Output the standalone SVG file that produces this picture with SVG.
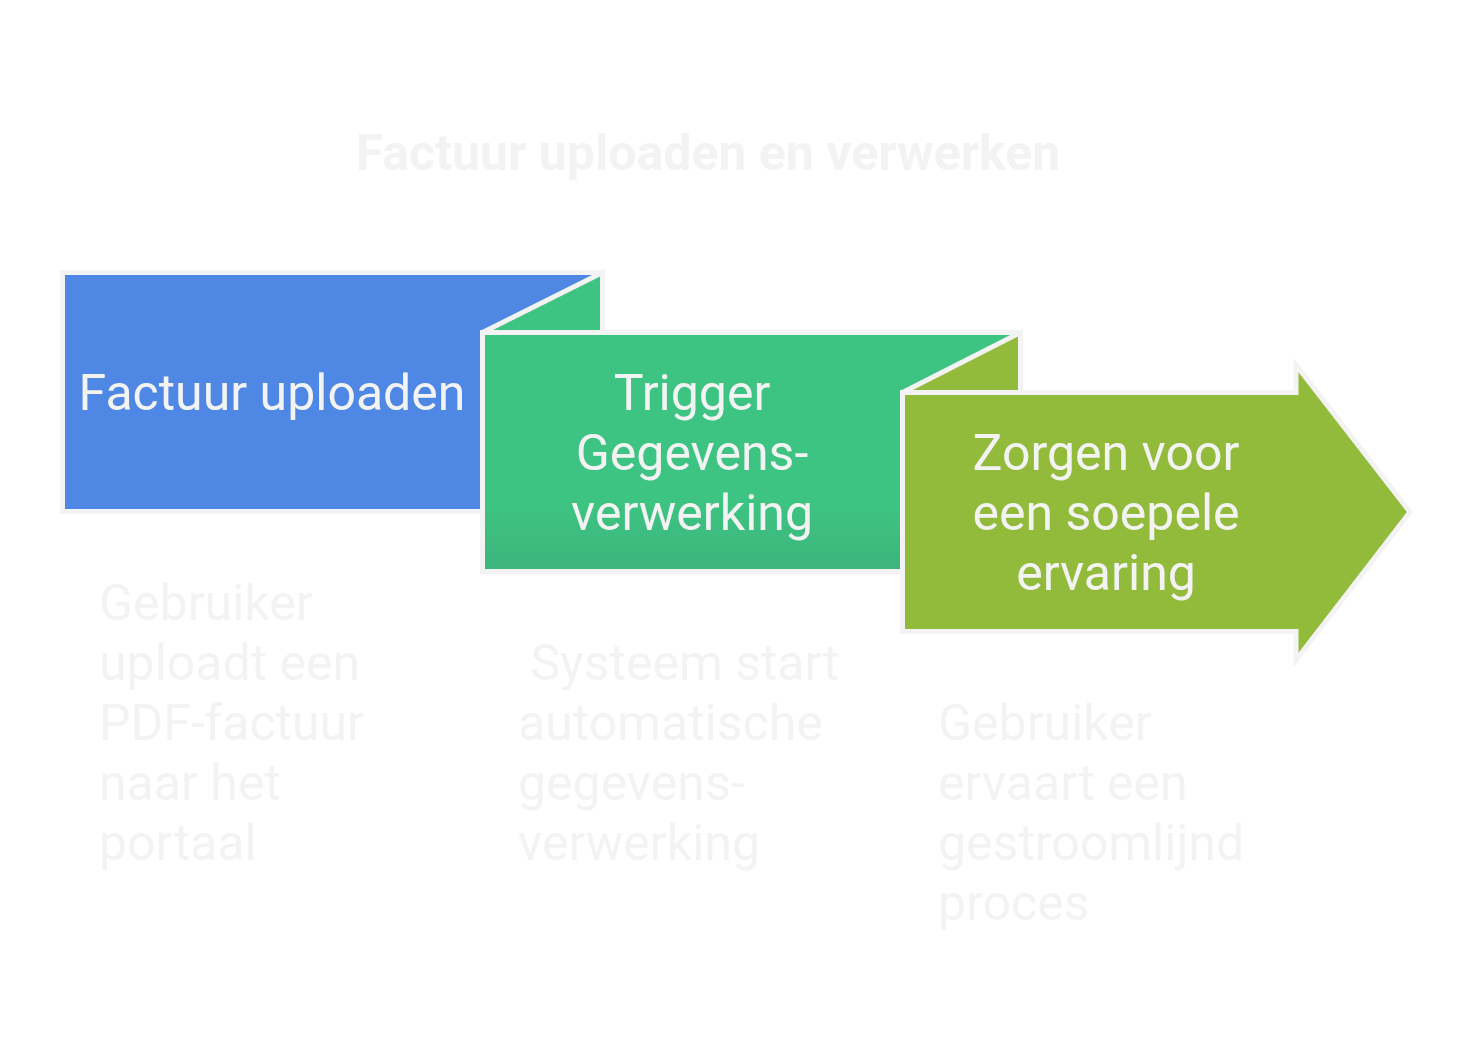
<svg xmlns="http://www.w3.org/2000/svg" width="1476" height="1055" viewBox="0 0 1476 1055">
<defs>
<linearGradient id="gGreen" x1="0" y1="0" x2="0" y2="1">
<stop offset="0" stop-color="#3dc482"/>
<stop offset="0.7" stop-color="#3dc482"/>
<stop offset="1" stop-color="#3db57c"/>
</linearGradient>
<style>
.shape{stroke:#f3f3f3;stroke-width:5;stroke-linejoin:miter}
.lbl{font-family:Roboto,"Liberation Sans",sans-serif;font-size:50px;fill:#f3f3f3;text-anchor:middle}
.desc{font-family:Roboto,"Liberation Sans",sans-serif;font-size:50px;fill:#f3f3f3}
.title{font-family:Roboto,"Liberation Sans",sans-serif;font-size:50px;font-weight:bold;fill:#f3f3f3;text-anchor:middle}
</style>
</defs>
<rect width="1476" height="1055" fill="#ffffff"/>
<text class="title" x="708" y="170">Factuur uploaden en verwerken</text>
<g id="connectors"></g>
<g id="node1">
<rect class="shape" x="62.5" y="272.5" width="540" height="239" fill="#4e88e4"/>
<text class="lbl" x="272" y="410">Factuur uploaden</text>
</g>
<g id="node2">
<polygon class="shape" points="482.5,332.5 602.5,272.5 602.5,332.5" fill="#3dc482"/>
<rect class="shape" x="482.5" y="332.5" width="538" height="239" fill="url(#gGreen)"/>
<text class="lbl" x="692" y="410">Trigger</text>
<text class="lbl" x="692" y="470">Gegevens-</text>
<text class="lbl" x="692" y="530">verwerking</text>
</g>
<g id="node3">
<polygon class="shape" points="902.5,392.5 1020.5,332.5 1020.5,392.5" fill="#93bb3b"/>
<polygon class="shape" points="902.5,392.5 1296,392.5 1296,365 1410,512 1296,660 1296,631.5 902.5,631.5" fill="#93bb3b"/>
<text class="lbl" x="1106" y="470">Zorgen voor</text>
<text class="lbl" x="1106" y="530">een soepele</text>
<text class="lbl" x="1106" y="590">ervaring</text>
</g>
<g id="desc1">
<text class="desc" x="99" y="620">Gebruiker</text>
<text class="desc" x="99" y="680">uploadt een</text>
<text class="desc" x="99" y="740">PDF-factuur</text>
<text class="desc" x="99" y="800">naar het</text>
<text class="desc" x="99" y="860">portaal</text>
</g>
<g id="desc2">
<text class="desc" x="518" y="680" xml:space="preserve"> Systeem start</text>
<text class="desc" x="518" y="740">automatische</text>
<text class="desc" x="518" y="800">gegevens-</text>
<text class="desc" x="518" y="860">verwerking</text>
</g>
<g id="desc3">
<text class="desc" x="938" y="740">Gebruiker</text>
<text class="desc" x="938" y="800">ervaart een</text>
<text class="desc" x="938" y="860">gestroomlijnd</text>
<text class="desc" x="938" y="920">proces</text>
</g>
</svg>
